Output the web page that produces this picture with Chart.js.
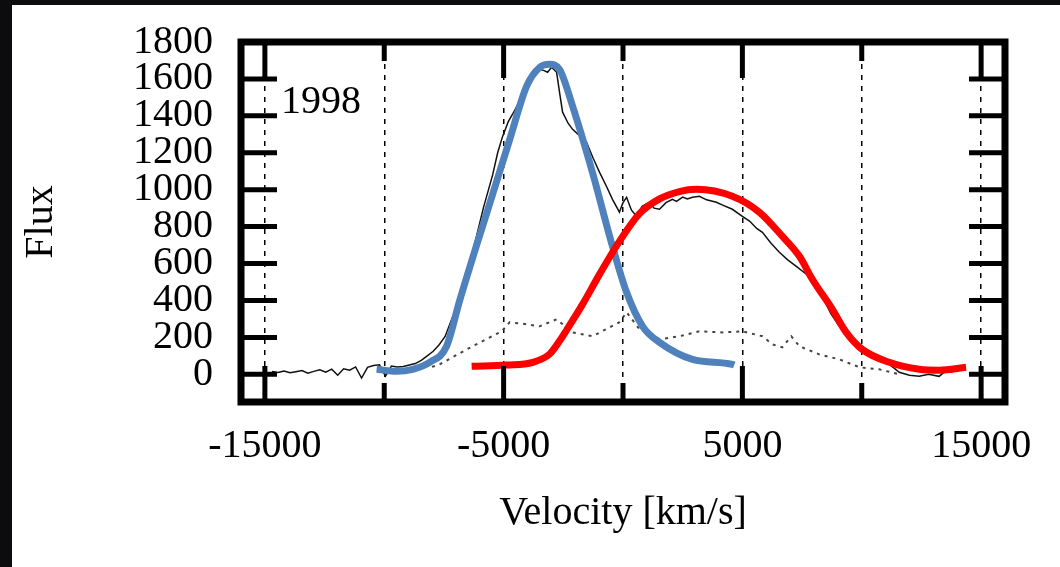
<!DOCTYPE html>
<html lang="en">

<head>
    <meta charset="utf-8">
    <title>Flux vs Velocity 1998</title>
    <script src="https://cdn.jsdelivr.net/npm/chart.js@4.4.0/dist/chart.umd.min.js"></script>
    <style>
        body { margin: 0; background: #0c0b0d; width: 1060px; height: 567px; overflow: hidden; }
        #panel { position: absolute; left: 12px; top: 5px; right: 0; bottom: 0; background: #fff; }
        #myChart { position: absolute; left: 0; top: 0; }
    </style>
</head>

<body>
<div id="panel"></div>
<canvas id="myChart" width="1060" height="567"></canvas>

<script>
    // observed spectrum (thin black line)
    let specVel = [-14700, -14450, -14200, -13950, -13700, -13450, -13200, -12950, -12700, -12450,
        -12200, -11950, -11700, -11450, -11200, -10950, -10700, -10450, -10200, -9950,
        -9700, -9450, -9200, -8950, -8700, -8450, -8200, -7950, -7700, -7450,
        -7200, -6950, -6700, -6420, -6150, -5850, -5460, -5250, -5040, -4800,
        -4620, -4330, -4100, -3910, -3700, -3490, -3300, -3160, -2990, -2780,
        -2650, -2530, -2300, -2110, -1800, -1530, -1250, -980, -700, -440,
        -150, 0, 150, 350, 560, 800, 1110, 1300, 1530, 1800,
        2070, 2240, 2500, 2700, 2910, 3200, 3500, 3910, 4200, 4580,
        5000, 5300, 5600, 5840, 6200, 6550, 6900, 7260, 7600, 7930,
        8350, 8700, 9060, 9500, 10020, 10500, 11150, 11570, 12000, 12410,
        12800, 13240, 13530, 13800];
    let specFlux = [15, 10, 18, 8, 14, 20, 6, 16, 24, 12,
        28, -5, 30, 22, 40, -20, 38, 48, 52, -10,
        45, 40, 42, 50, 58, 75, 100, 125, 160, 205,
        290, 370, 470, 600, 740, 900, 1080, 1200, 1290, 1370,
        1410, 1480, 1545, 1614, 1640, 1652, 1645, 1636, 1663, 1636,
        1520, 1420, 1360, 1327, 1290, 1257, 1170, 1094, 1020, 948,
        878, 930, 959, 890, 856, 910, 932, 900, 894, 930,
        948, 937, 960, 950, 959, 964, 945, 932, 915, 894,
        856, 830, 790, 769, 710, 661, 620, 585, 550, 515,
        423, 330, 260, 185, 135, 90, 55, 11, -5, -11,
        0, -11, 20, 10];

    // dotted residual
    let dotVel = [-8000, -7680, -6300, -5080, -4750, -4040, -3490, -2780, -2110, -1280,
        -150, 150, 690, 1530, 2360, 3200, 4160, 5000, 5840, 6260,
        6670, 7050, 7390, 8220, 9060, 9900, 10730, 11570];
    let dotFlux = [40, 54, 152, 233, 282, 271, 260, 298, 227, 206,
        282, 336, 244, 190, 206, 233, 227, 233, 206, 162,
        146, 206, 152, 108, 81, 38, 27, 0];

    // blue component
    let blueVel = [-10320, -9480, -8810, -8100, -7390, -6840, -6130, -5460, -4750, -4040,
        -3490, -3070, -2660, -2110, -1280, -440, 150, 820, 1530, 2910,
        4580, 4660];
    let blueFlux = [27, 16, 27, 65, 152, 400, 700, 975, 1270, 1560,
        1663, 1679, 1652, 1452, 1094, 693, 444, 260, 173, 81,
        54, 50];

    // red component
    let redVel = [-6340, -4870, -3780, -3070, -2660, -2360, -1690, -990, -150, 690,
        1530, 2360, 3080, 4580, 5710, 6670, 7390, 7930, 8770, 9350,
        10020, 11150, 12410, 13240, 14370];
    let redFlux = [43, 50, 65, 110, 180, 240, 380, 540, 720, 870,
        950, 990, 1002, 964, 878, 748, 639, 515, 352, 227,
        135, 65, 27, 22, 38];

    let xTicks = [-15000, -10000, -5000, 0, 5000, 10000, 15000];
    let yTicks = [0, 200, 400, 600, 800, 1000, 1200, 1400, 1600, 1800];
    let yearLabel = "1998";

    let toPoints = (xs, ys) => xs.map((x, i) => ({x: x, y: ys[i]}));
    let serif = "'Liberation Serif', 'DejaVu Serif', serif";

    // frame, inward tics and the year label
    let framePlugin = {
        id: 'frame',
        afterDraw: (chart) => {
            let ctx = chart.ctx;
            let a = chart.chartArea;
            let xs = chart.scales.x;
            let ys = chart.scales.y;
            ctx.save();
            ctx.strokeStyle = '#000';
            ctx.lineCap = 'butt';
            ctx.lineWidth = 5;
            ctx.beginPath();
            yTicks.forEach(v => {
                let py = ys.getPixelForValue(v);
                ctx.moveTo(a.left, py); ctx.lineTo(a.left + 36, py);
                ctx.moveTo(a.right, py); ctx.lineTo(a.right - 36, py);
            });
            xTicks.forEach(v => {
                let px = xs.getPixelForValue(v);
                let len = Math.abs(v) % 10000 === 5000 ? 36 : 19;
                ctx.moveTo(px, a.top); ctx.lineTo(px, a.top + len);
                ctx.moveTo(px, a.bottom); ctx.lineTo(px, a.bottom - len);
            });
            ctx.stroke();
            ctx.lineWidth = 7;
            ctx.strokeRect(a.left, a.top, a.right - a.left, a.bottom - a.top);
            ctx.fillStyle = '#000';
            ctx.font = '40px ' + serif;
            ctx.textBaseline = 'middle';
            ctx.textAlign = 'left';
            ctx.fillText(yearLabel, 281, 102);
            ctx.restore();
        }
    };

    let showChart = () => {
        let ctx = document.getElementById("myChart").getContext("2d");
        new Chart(ctx, {
            type: 'line',
            data: {
                datasets: [{
                    label: "red",
                    data: toPoints(redVel, redFlux),
                    borderColor: '#ff0000',
                    borderWidth: 7,
                    tension: 0.4,
                    cubicInterpolationMode: 'monotone',
                    pointRadius: 0
                }, {
                    label: "blue",
                    data: toPoints(blueVel, blueFlux),
                    borderColor: '#4f81bd',
                    borderWidth: 7,
                    tension: 0.4,
                    cubicInterpolationMode: 'monotone',
                    pointRadius: 0
                }, {
                    label: "spectrum",
                    data: toPoints(specVel, specFlux),
                    borderColor: '#111',
                    borderWidth: 1.5,
                    tension: 0,
                    pointRadius: 0
                }, {
                    label: "residual",
                    data: toPoints(dotVel, dotFlux),
                    borderColor: '#444',
                    borderWidth: 2,
                    borderDash: [3, 5],
                    tension: 0,
                    pointRadius: 0
                }]
            },
            options: {
                responsive: false,
                animation: false,
                layout: {padding: {top: 42, right: 55, left: 0, bottom: 0}},
                plugins: {legend: {display: false}, tooltip: {enabled: false}},
                scales: {
                    x: {
                        type: 'linear',
                        min: -16000,
                        max: 16000,
                        afterBuildTicks: (s) => { s.ticks = xTicks.map(v => ({value: v})); },
                        afterFit: (s) => { s.height = 165; },
                        grid: {color: '#000', lineWidth: 1.5, drawTicks: false},
                        border: {display: false, dash: [5, 6]},
                        ticks: {
                            autoSkip: false,
                            maxRotation: 0,
                            padding: 20,
                            color: '#000',
                            font: {family: serif, size: 40},
                            callback: (v) => Math.abs(v) % 10000 === 5000 ? String(v) : ''
                        },
                        title: {
                            display: true,
                            text: 'Velocity [km/s]',
                            color: '#000',
                            font: {family: serif, size: 40},
                            padding: {top: 0, bottom: 30}
                        }
                    },
                    y: {
                        min: -150,
                        max: 1800,
                        afterBuildTicks: (s) => { s.ticks = yTicks.map(v => ({value: v})); },
                        afterFit: (s) => { s.width = 241; s.paddingTop = 0; s.paddingBottom = 0; },
                        grid: {display: false, drawTicks: false},
                        border: {display: false},
                        ticks: {
                            autoSkip: false,
                            padding: 28,
                            color: '#000',
                            font: {family: serif, size: 40},
                            callback: (v) => String(v)
                        },
                        title: {
                            display: true,
                            text: 'Flux',
                            color: '#000',
                            font: {family: serif, size: 40},
                            padding: {top: 17, bottom: 0}
                        }
                    }
                }
            },
            plugins: [framePlugin]
        });
    }

    showChart();
</script>

</body>

</html>
